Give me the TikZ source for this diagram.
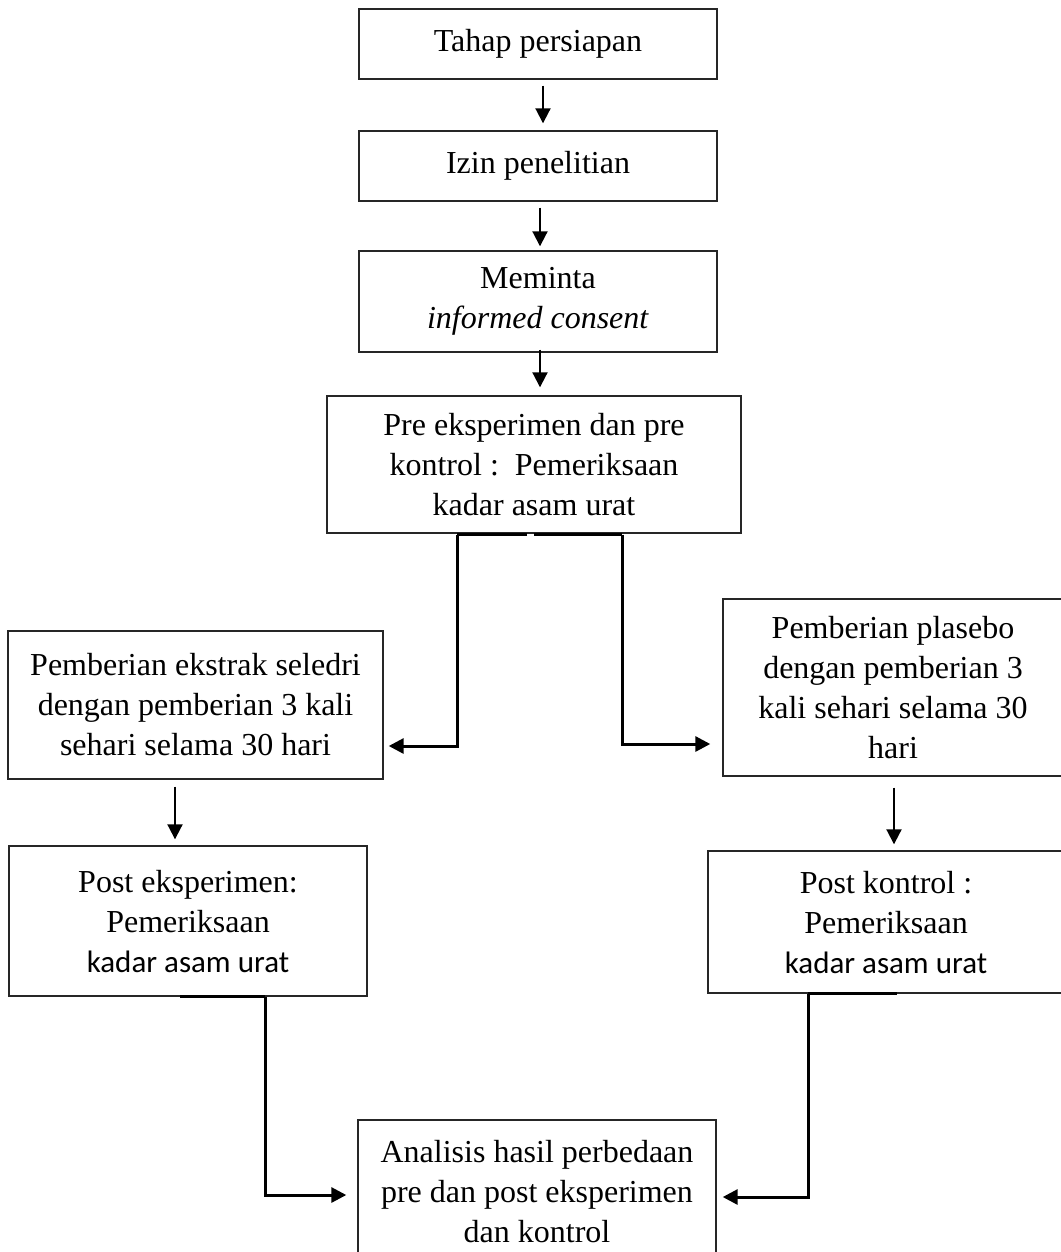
\documentclass[tikz,border=0pt]{standalone}
\usepackage{fontspec}
\setmainfont{Liberation Serif}
\newfontfamily\calfont{Carlito}
\usetikzlibrary{arrows.meta}
\begin{document}
\begin{tikzpicture}[x=0.5pt,y=-0.5pt,
  box/.style={draw=black!85, line width=0.7pt, inner sep=0pt, align=center,
    font=\fontsize{16pt}{20pt}\selectfont},
  darrow/.style={line width=1pt, -{Triangle[length=7.5pt,width=7.5pt]}},
  conn/.style={line width=1.5pt, -{Triangle[length=7.5pt,width=7.5pt]}},
  stub/.style={line width=1.5pt}]
\useasboundingbox (0,0) rectangle (1060,1252);
\fill[white] (0,0) rectangle (1060,1252);
\newcommand\kau{{\calfont\fontsize{15.5pt}{20pt}\selectfont kadar asam urat}}
% boxes
\node[box, minimum width=179pt, minimum height=35pt] (b1) at (538,44) {Tahap persiapan};
\node[box, minimum width=179pt, minimum height=35pt] (b2) at (538,166) {Izin penelitian};
\node[box, minimum width=179pt, minimum height=50.5pt] (b3) at (538,301.5) {Meminta\\\textit{informed consent}};
\node[box, minimum width=207pt, minimum height=68.5pt] (b4) at (534,464.5) {Pre eksperimen dan pre\\kontrol :\ \ Pemeriksaan\\kadar asam urat};
\node[box, minimum width=187.5pt, minimum height=74pt] (b5) at (195.5,705) {Pemberian ekstrak seledri\\dengan pemberian 3 kali\\sehari selama 30 hari};
\node[box, minimum width=170pt, minimum height=88.5pt] (b6) at (893,687.5) {Pemberian plasebo\\dengan pemberian 3\\kali sehari selama 30\\hari};
\node[box, minimum width=179pt, minimum height=75pt] (b7) at (188,921) {Post eksperimen:\\Pemeriksaan\\\kau};
\node[box, minimum width=178pt, minimum height=71pt] (b8) at (886,922) {Post kontrol :\\Pemeriksaan\\\kau};
\node[box, minimum width=179pt, minimum height=72pt] (b9) at (537,1192) {Analisis hasil perbedaan\\pre dan post eksperimen\\dan kontrol};
% vertical arrows
\coordinate (s1) at ([xshift=2.5pt,yshift=-3pt]b1.south);
\draw[darrow, shorten >=3.5pt] (s1) -- (s1 |- b2.north);
\coordinate (s2) at ([xshift=1pt,yshift=-3pt]b2.south);
\draw[darrow, shorten >=2pt] (s2) -- (s2 |- b3.north);
\coordinate (s3) at ([xshift=1pt,yshift=1.5pt]b3.south);
\draw[darrow, shorten >=4pt] (s3) -- (s3 |- b4.north);
\coordinate (s4) at ([xshift=-10.25pt,yshift=-3.5pt]b5.south);
\draw[darrow, shorten >=3pt] (s4) -- (s4 |- b7.north);
\coordinate (s5) at ([xshift=0.5pt,yshift=-5.5pt]b6.south);
\draw[darrow, shorten >=3pt] (s5) -- (s5 |- b8.north);
% branch connectors
\draw[stub] ([xshift=-3.5pt,yshift=-0.5pt]b4.south) -- ([xshift=-38.5pt,yshift=-0.5pt]b4.south);
\draw[conn] ([xshift=-38.5pt,yshift=-0.5pt]b4.south) |- ([xshift=2.5pt,yshift=-20.5pt]b5.east);
\draw[stub] ([yshift=-0.5pt]b4.south) -- ([xshift=44pt,yshift=-0.5pt]b4.south);
\draw[conn] ([xshift=44pt,yshift=-0.5pt]b4.south) |- ([xshift=-6pt,yshift=-28.25pt]b6.west);
% merge connectors
\draw[stub] ([xshift=-4pt]b7.south) -- ([xshift=38.5pt]b7.south);
\draw[conn] ([xshift=38.5pt]b7.south) |- ([xshift=-5.5pt,yshift=-1.5pt]b9.west);
\draw[stub] ([xshift=5.5pt]b8.south) -- ([xshift=-39pt]b8.south);
\draw[conn] ([xshift=-39pt]b8.south) |- ([xshift=3pt,yshift=-2.5pt]b9.east);
\end{tikzpicture}
\end{document}
